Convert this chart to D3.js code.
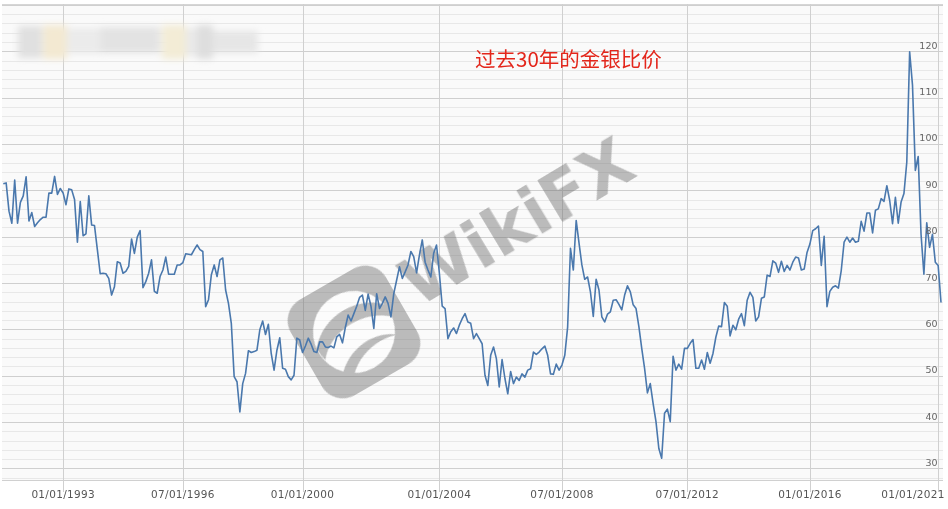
<!DOCTYPE html>
<html><head><meta charset="utf-8">
<script src="https://cdn.jsdelivr.net/npm/d3@7"></script>
<style>html,body{margin:0;padding:0;background:#fff;overflow:hidden}</style>
</head><body><svg id="c" width="948" height="509"></svg>
<script>
// ---- data ----
const title = "过去30年的金银比价";
const tickLabels = ["01/01/1993","07/01/1996","01/01/2000","01/01/2004","07/01/2008","07/01/2012","01/01/2016","01/01/2021"];
const tickIndex = [21, 63, 105, 153, 196, 240, 283, 328];
const yTickValues = [30, 40, 50, 60, 70, 80, 90, 100, 110, 120];
const ratio = [
 91.4,91.6,85.5,82.9,92.2,82.9,87.4,88.8,92.9,83.4,85.2,82.2,83.0,83.7,84.2,84.2,89.4,89.4,93.0,89.1,
 90.4,89.4,86.9,90.3,90.1,88.0,78.8,87.6,80.2,80.6,88.8,82.5,82.4,77.2,72.0,72.1,72.0,71.0,67.4,69.2,
 74.6,74.3,72.1,72.5,73.6,79.5,76.4,79.9,81.3,69.0,70.3,72.1,75.0,68.2,67.8,71.4,72.8,75.6,71.9,71.9,
 71.9,73.9,73.9,74.4,76.3,76.2,76.1,77.2,78.2,77.2,76.8,64.9,66.4,71.8,73.9,71.4,75.0,75.4,68.5,65.6,
 61.3,49.8,48.7,42.2,48.3,50.5,55.4,55.0,55.2,55.5,59.9,61.8,58.9,61.1,54.8,51.2,55.5,58.2,51.6,51.4,
 49.8,49.1,50.1,58.1,57.7,55.0,56.4,58.1,56.8,55.2,55.0,57.3,
 57.3,56.2,56.1,56.4,56.0,58.4,58.9,57.1,60.4,63.1,61.8,63.4,65.0,66.9,67.4,64.1,67.6,65.0,60.2,67.7,
 64.5,65.6,67.0,65.6,62.7,67.7,70.6,73.5,71.0,72.4,73.9,76.8,75.7,72.2,76.0,79.3,74.5,72.8,71.3,76.4,
 78.2,72.1,65.0,64.5,58.0,59.5,60.3,59.1,60.9,62.3,63.4,61.6,61.3,58.0,59.1,58.0,56.9,50.1,47.9,54.4,
 56.2,53.7,47.6,53.5,49.4,46.1,50.9,48.3,49.7,49.0,50.4,49.7,51.2,51.5,55.1,54.6,55.1,55.8,56.4,54.4,
 50.4,50.3,52.5,51.2,52.3,54.4,60.5,77.5,72.8,83.5,78.6,73.9,70.8,71.3,68.1,62.8,70.8,68.5,62.7,61.6,
 63.3,63.8,66.3,66.4,65.4,
 64.2,67.4,69.4,68.1,65.3,64.5,60.6,55.9,51.6,46.3,48.3,44.0,40.1,34.3,32.2,41.9,42.8,40.1,54.2,51.2,
 52.5,51.4,55.9,55.9,57.0,57.8,51.6,51.6,53.4,51.4,55.0,52.7,54.8,58.3,60.7,60.6,65.8,65.0,58.6,60.9,
 59.9,62.2,
 63.4,60.8,66.3,68.0,66.9,61.8,62.7,66.7,67.0,71.7,71.4,74.8,74.3,72.3,74.7,72.5,73.8,72.8,74.5,75.6,
 75.4,72.8,73.0,76.6,78.4,81.3,81.7,82.3,73.8,80.1,64.9,68.2,69.1,69.4,68.9,72.7,78.8,79.9,78.8,79.7,
 78.8,79.0,83.3,81.2,85.1,85.1,80.8,85.7,86.0,88.2,87.6,91.0,87.8,82.8,88.5,82.9,87.5,89.3,96.1,119.9,
 112.7,94.3,97.3,80.5,71.9,83.0,77.7,80.5,74.5,73.8,65.8
];

// ---- layout ----
const W = 948, H = 509;
const plot = {left: 2, right: 943, top: 4, bottom: 480};
const svg = d3.select("#c");

const x = d3.scaleLinear().domain([0, ratio.length - 1]).range([3.3, 941]);
const y = d3.scaleLinear().domain([27.5, 130.2]).range([plot.bottom, plot.top]);

// background
svg.append("rect").attr("width", W).attr("height", H).attr("fill", "#ffffff");
svg.append("rect").attr("x", plot.left).attr("y", plot.top)
  .attr("width", plot.right - plot.left).attr("height", plot.bottom - plot.top)
  .attr("fill", "#fafafa");

// minor grid
const minor = d3.range(28, 131, 2).filter(v => v % 10 !== 0);
svg.append("g").selectAll("line").data(minor).join("line")
  .attr("x1", plot.left).attr("x2", plot.right)
  .attr("y1", d => Math.round(y(d)) + 0.5).attr("y2", d => Math.round(y(d)) + 0.5)
  .attr("stroke", "#e8e8e8").attr("stroke-width", 1);
// major grid
svg.append("g").selectAll("line").data(yTickValues.concat([130])).join("line")
  .attr("x1", plot.left).attr("x2", plot.right)
  .attr("y1", d => Math.round(y(d)) + 0.5).attr("y2", d => Math.round(y(d)) + 0.5)
  .attr("stroke", "#cfcfcf").attr("stroke-width", 1);
// top & bottom borders
svg.append("line").attr("x1", plot.left).attr("x2", plot.right)
  .attr("y1", plot.top + 0.5).attr("y2", plot.top + 0.5).attr("stroke", "#d6d6d6");
svg.append("line").attr("x1", plot.left).attr("x2", plot.right)
  .attr("y1", plot.bottom + 0.5).attr("y2", plot.bottom + 0.5).attr("stroke", "#d0d0d0");

// vertical grid + ticks
svg.append("g").selectAll("line").data(tickIndex).join("line")
  .attr("x1", d => Math.round(x(d)) + 0.5).attr("x2", d => Math.round(x(d)) + 0.5)
  .attr("y1", plot.top).attr("y2", plot.bottom + 12)
  .attr("stroke", "#d0d0d0").attr("stroke-width", 1);

// blurred header (obscured in reference)
const defs = svg.append("defs");
defs.append("filter").attr("id", "blur").attr("x", "-30%").attr("y", "-50%").attr("width", "160%").attr("height", "200%")
  .append("feGaussianBlur").attr("stdDeviation", 3.5);
const blobs = [
  [18, 26, 24, 32, "#e0e0e0"], [43, 25, 24, 34, "#f3e9d2"], [67, 28, 33, 26, "#ebebeb"],
  [100, 27, 60, 26, "#e3e3e3"], [162, 25, 24, 34, "#f3ecd6"], [186, 28, 12, 28, "#e9e9e9"],
  [197, 25, 16, 34, "#dedede"], [213, 31, 45, 22, "#e6e6e6"]
];
svg.append("g").attr("filter", "url(#blur)").selectAll("rect").data(blobs).join("rect")
  .attr("x", d => d[0]).attr("y", d => d[1]).attr("width", d => d[2]).attr("height", d => d[3])
  .attr("fill", d => d[4]);

// watermark
const wm = svg.append("g").attr("opacity", 0.45);
const logo = wm.append("g").attr("transform", "translate(354,332) rotate(-30)");
logo.append("rect").attr("x", -55).attr("y", -55).attr("width", 110).attr("height", 110)
  .attr("rx", 24).attr("fill", "#6e6e6e");
logo.append("circle").attr("r", 41).attr("fill", "#ffffff");
logo.append("path").attr("d", "M-41,-4 C-20,-30 20,-30 41,-8 L41,6 C20,-14 -20,-14 -39,10 Z").attr("fill", "#6e6e6e");
logo.append("path").attr("d", "M-30,30 C-10,10 20,10 36,24 C20,18 -5,20 -22,38 Z").attr("fill", "#6e6e6e");
wm.append("text").attr("transform", "translate(418,308) rotate(-31)")
  .attr("font-family", "DejaVu Sans").attr("font-weight", "bold").attr("font-size", 66)
  .attr("letter-spacing", 0).attr("fill", "#6e6e6e").text("WikiFX");

// line
svg.append("path").datum(ratio)
  .attr("fill", "none").attr("stroke", "#4a78ad").attr("stroke-width", 1.6)
  .attr("stroke-linejoin", "round")
  .attr("d", d3.line().x((d, i) => x(i)).y(d => y(d)));

// y labels
svg.append("g").selectAll("text").data(yTickValues).join("text")
  .attr("x", 937.5).attr("y", d => y(d) - 2.5).attr("text-anchor", "end")
  .attr("font-family", "DejaVu Sans").attr("font-size", 9.5).attr("fill", "#666")
  .text(d => d);

// x labels
svg.append("g").selectAll("text").data(tickIndex).join("text")
  .attr("x", d => Math.min(x(d), W - 35))
  .attr("y", 498).attr("text-anchor", "middle")
  .attr("font-family", "DejaVu Sans").attr("font-size", 10.5).attr("fill", "#555")
  .attr("letter-spacing", 0.3)
  .text((d, i) => tickLabels[i]);

// title
svg.append("text").attr("x", 475).attr("y", 58).attr("dominant-baseline", "central")
  .attr("font-family", "Noto Sans CJK SC").attr("font-size", 20.5).attr("fill", "#e3261b")
  .text(title);
</script></body></html>
